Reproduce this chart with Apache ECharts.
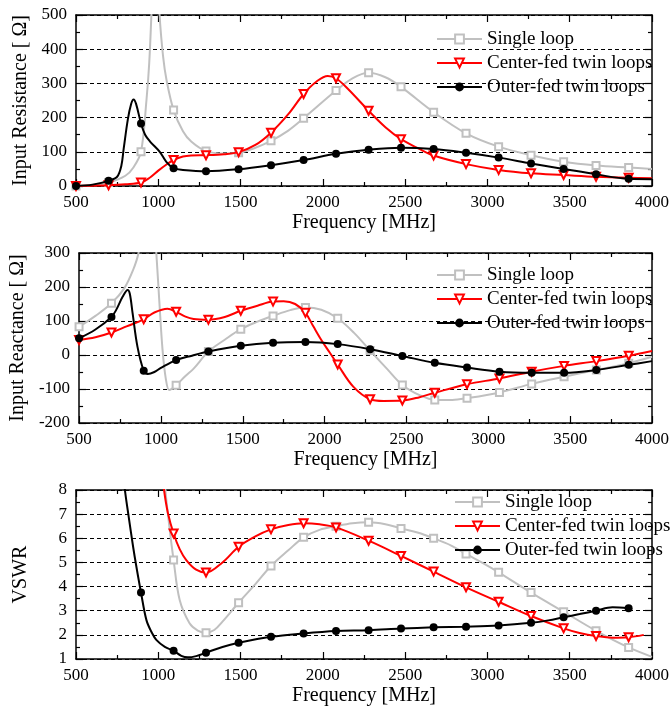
<!DOCTYPE html>
<html>
<head>
<meta charset="utf-8">
<script src="https://cdn.jsdelivr.net/npm/echarts@6/dist/echarts.min.js"></script>
<style>
  html, body { margin: 0; padding: 0; background: #fff; }
  #chart { width: 672px; height: 710px; }
</style>
</head>
<body>
<div id="chart"></div>
<script>
// marker positions (MHz), shared by every curve
const markerFreq = [500, 698, 895, 1093, 1290, 1488, 1685, 1883, 2080, 2278, 2475, 2673, 2870, 3068, 3265, 3463, 3660, 3858];
const seriesNames = ["Single loop", "Center-fed twin loops", "Outer-fed twin loops"];
const xTicks = [500, 1000, 1500, 2000, 2500, 3000, 3500, 4000];

// input resistance
const resSingleF = [500, 600, 698, 800, 850, 895, 928, 945, 958, 980, 1008, 1029, 1050, 1093, 1150, 1200, 1290, 1400, 1488, 1590, 1685, 1790, 1883, 2080, 2180, 2278, 2380, 2475, 2673, 2870, 3068, 3265, 3463, 3660, 3858, 4000];
const resSingle = [0, 3, 10, 30, 55, 100, 250, 360, 500, 800, 500, 380, 310, 222, 160, 130, 102, 95, 97, 112, 132, 162, 198, 279, 315, 331, 318, 290, 216, 154, 115, 90, 71, 60, 54, 50];
const resCenterF = [500, 600, 698, 800, 895, 950, 1000, 1050, 1093, 1150, 1200, 1290, 1400, 1488, 1590, 1685, 1790, 1883, 1960, 2030, 2080, 2150, 2278, 2380, 2475, 2580, 2673, 2870, 3068, 3265, 3463, 3660, 3858, 4000];
const resCenter = [0, 1, 2, 5, 10, 25, 45, 63, 76, 86, 89, 90, 93, 99, 120, 156, 210, 269, 305, 322, 315, 285, 220, 172, 137, 110, 89, 64, 47, 37, 32, 27, 24, 23];
const resOuterF = [500, 600, 698, 750, 775, 790, 815, 835, 850, 865, 895, 920, 950, 1009, 1050, 1093, 1150, 1290, 1488, 1685, 1883, 2080, 2278, 2475, 2673, 2870, 3068, 3265, 3463, 3660, 3858, 4000];
const resOuter = [0, 4, 15, 27, 58, 110, 195, 240, 253, 240, 183, 150, 130, 100, 70, 52, 47, 43, 49, 61, 76, 94, 106, 112, 108, 97, 83, 66, 50, 34, 21, 20];

// input reactance
const reaSingleF = [500, 600, 698, 776, 830, 863, 900, 930, 950, 972, 990, 1010, 1030, 1050, 1070, 1093, 1150, 1200, 1290, 1390, 1488, 1590, 1685, 1790, 1883, 1980, 2080, 2180, 2278, 2380, 2475, 2580, 2673, 2780, 2870, 3068, 3265, 3463, 3660, 3858, 4000];
const reaSingle = [83, 115, 152, 196, 250, 300, 420, 500, 450, 300, 160, 15, -70, -103, -98, -89, -62, -40, 10, 45, 76, 98, 115, 132, 140, 133, 108, 65, 13, -40, -88, -118, -132, -132, -127, -110, -85, -64, -44, -24, -5];
const reaCenterF = [500, 600, 698, 790, 895, 960, 1040, 1093, 1150, 1200, 1290, 1390, 1488, 1590, 1685, 1750, 1820, 1883, 1930, 1980, 2030, 2080, 2175, 2278, 2360, 2475, 2580, 2673, 2870, 3068, 3265, 3463, 3660, 3858, 4000];
const reaCenter = [44, 52, 66, 84, 105, 125, 136, 127, 113, 106, 104, 112, 130, 145, 157, 158, 150, 124, 85, 44, 8, -28, -93, -130, -135, -134, -124, -111, -86, -69, -49, -32, -18, -2, 12];
const reaOuterF = [500, 600, 698, 726, 766, 797, 810, 827, 857, 895, 920, 960, 1000, 1093, 1190, 1290, 1488, 1685, 1883, 2080, 2278, 2475, 2673, 2870, 3068, 3265, 3463, 3660, 3858, 4000];
const reaOuter = [49, 75, 112, 132, 171, 191, 180, 123, 24, -46, -56, -50, -38, -15, -2, 10, 27, 36, 38, 32, 17, -3, -23, -37, -49, -52, -52, -44, -29, -18];

// VSWR
const vswrSingleF = [1025, 1043, 1065, 1093, 1130, 1190, 1240, 1290, 1340, 1390, 1488, 1590, 1685, 1790, 1883, 1980, 2080, 2180, 2278, 2380, 2475, 2580, 2673, 2780, 2870, 2970, 3068, 3265, 3463, 3660, 3858, 4000];
const vswrSingle = [9.5, 8.0, 6.62, 5.1, 3.44, 2.48, 2.18, 2.09, 2.2, 2.55, 3.33, 4.1, 4.85, 5.5, 6.04, 6.35, 6.5, 6.62, 6.66, 6.58, 6.41, 6.23, 6.0, 5.7, 5.35, 4.98, 4.59, 3.75, 2.96, 2.17, 1.48, 1.09];
const vswrCenterF = [1020, 1035, 1059, 1093, 1130, 1170, 1230, 1290, 1390, 1488, 1590, 1685, 1790, 1883, 1980, 2080, 2278, 2475, 2673, 2870, 3068, 3265, 3463, 3560, 3660, 3760, 3858, 3950];
const vswrCenter = [9.0, 8.0, 7.03, 6.2, 5.55, 5.1, 4.7, 4.58, 5.0, 5.65, 6.08, 6.37, 6.55, 6.62, 6.58, 6.45, 5.9, 5.27, 4.62, 3.97, 3.37, 2.78, 2.27, 2.08, 1.95, 1.88, 1.9, 2.0];
const vswrOuterF = [780, 800, 820, 847, 867, 895, 928, 960, 988, 1040, 1093, 1140, 1180, 1230, 1290, 1390, 1488, 1685, 1883, 2080, 2278, 2475, 2673, 2870, 3068, 3265, 3370, 3463, 3560, 3660, 3760, 3858];
const vswrOuter = [9.0, 7.85, 6.9, 5.65, 4.82, 3.75, 2.61, 2.1, 1.79, 1.5, 1.34, 1.13, 1.07, 1.12, 1.26, 1.5, 1.67, 1.92, 2.06, 2.16, 2.19, 2.26, 2.31, 2.34, 2.39, 2.5, 2.6, 2.73, 2.86, 3.0, 3.14, 3.1];

const font = "Liberation Serif";
const styles = [
  { color: "#c0c0c0", symbol: "emptyRect", size: 7, rotate: 0 },
  { color: "#ff0000", symbol: "emptyTriangle", size: 8, rotate: 180 },
  { color: "#000000", symbol: "circle", size: 8, rotate: 0 }
];

function zip(f, v) {
  return f.map((x, i) => [x, v[i]]);
}

function makeLine(idx, k, f, v) {
  const s = styles[k];
  return {
    name: seriesNames[k],
    type: "line",
    xAxisIndex: idx * 2,
    yAxisIndex: idx * 2,
    data: zip(f, v),
    smooth: 0.35,
    clip: true,
    showSymbol: true,
    showAllSymbol: true,
    symbol: s.symbol,
    symbolRotate: s.rotate,
    symbolSize: val => (markerFreq.indexOf(val[0]) >= 0 ? s.size : 0),
    lineStyle: { color: s.color, width: 2 },
    itemStyle: { color: s.color, borderWidth: 1.2 },
    emphasis: { disabled: true },
    z: 2 + k
  };
}

const grids = [
  { left: 76, right: 18, top: 15, height: 171 },
  { left: 76, right: 18, top: 253, height: 170 },
  { left: 76, right: 18, top: 490, height: 169 }
];
const yRanges = [
  { min: 0, max: 500, interval: 100, name: "Input Resistance [ \u03A9]" },
  { min: -200, max: 300, interval: 100, name: "Input Reactance [ \u03A9]" },
  { min: 1, max: 8, interval: 1, name: "VSWR" }
];

const tickStyle = { inside: true, length: 7, lineStyle: { color: "#000", width: 1.2 } };
const minorStyle = { show: true, splitNumber: 2, length: 4, lineStyle: { color: "#000", width: 1.2 } };
const lineStyleAxis = { show: true, onZero: false, lineStyle: { color: "#000", width: 1.5 } };

const xAxes = [];
const yAxes = [];
grids.forEach((g, i) => {
  xAxes.push({
    type: "value", gridIndex: i, position: "bottom",
    min: 500, max: 4000, interval: 500,
    name: "Frequency [MHz]", nameLocation: "middle", nameGap: 27,
    nameTextStyle: { fontFamily: font, fontSize: 20, color: "#000" },
    axisLine: lineStyleAxis, axisTick: tickStyle, minorTick: minorStyle,
    axisLabel: { fontFamily: font, fontSize: 17, color: "#000", margin: 8,
      formatter: v => (xTicks.indexOf(v) >= 0 ? String(v) : "") },
    splitLine: { show: false }
  });
  xAxes.push({
    type: "value", gridIndex: i, position: "top",
    min: 500, max: 4000, interval: 500,
    axisLine: lineStyleAxis, axisTick: tickStyle, minorTick: minorStyle,
    axisLabel: { show: false }, splitLine: { show: false }
  });
  const r = yRanges[i];
  yAxes.push({
    type: "value", gridIndex: i, position: "left",
    min: r.min, max: r.max, interval: r.interval,
    name: r.name, nameLocation: "middle", nameGap: 45,
    nameTextStyle: { fontFamily: font, fontSize: 20, color: "#000" },
    axisLine: lineStyleAxis, axisTick: tickStyle, minorTick: minorStyle,
    axisLabel: { fontFamily: font, fontSize: 17, color: "#000", margin: 9 },
    splitLine: { show: true, lineStyle: { color: "#000", width: 1, type: [4, 3] } }
  });
  yAxes.push({
    type: "value", gridIndex: i, position: "right",
    min: r.min, max: r.max, interval: r.interval,
    axisLine: lineStyleAxis, axisTick: tickStyle, minorTick: minorStyle,
    axisLabel: { show: false }, splitLine: { show: false }
  });
});

const legendPos = [
  { left: 436, top: 29 },
  { left: 436, top: 265 },
  { left: 454, top: 492 }
];
const legends = legendPos.map(p => ({
  left: p.left, top: p.top, orient: "vertical",
  padding: 0, itemWidth: 45, itemHeight: 11, itemGap: 4,
  selectedMode: false,
  data: seriesNames,
  textStyle: { fontFamily: font, fontSize: 19, color: "#000", lineHeight: 20 }
}));

const series = [
  makeLine(0, 0, resSingleF, resSingle),
  makeLine(0, 1, resCenterF, resCenter),
  makeLine(0, 2, resOuterF, resOuter),
  makeLine(1, 0, reaSingleF, reaSingle),
  makeLine(1, 1, reaCenterF, reaCenter),
  makeLine(1, 2, reaOuterF, reaOuter),
  makeLine(2, 0, vswrSingleF, vswrSingle),
  makeLine(2, 1, vswrCenterF, vswrCenter),
  makeLine(2, 2, vswrOuterF, vswrOuter)
];

const chart = echarts.init(document.getElementById("chart"));
chart.setOption({
  animation: false,
  backgroundColor: "#fff",
  grid: grids,
  xAxis: xAxes,
  yAxis: yAxes,
  legend: legends,
  series: series
});
</script>
</body>
</html>
